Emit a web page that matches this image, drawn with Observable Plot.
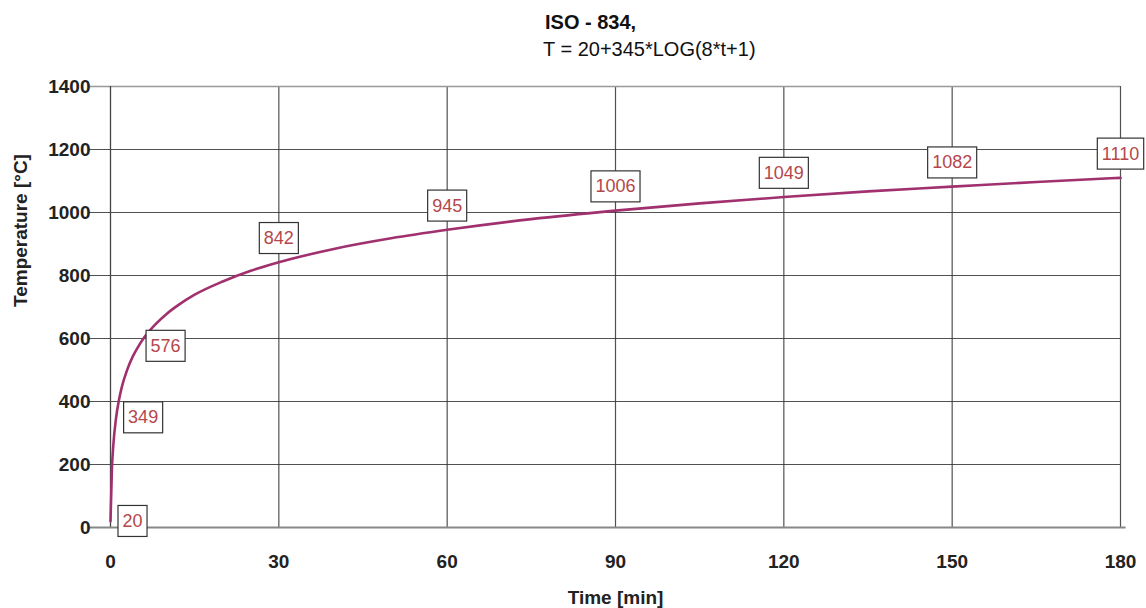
<!DOCTYPE html>
<html><head><meta charset="utf-8">
<script src="https://cdn.jsdelivr.net/npm/d3@7"></script>
<script src="https://cdn.jsdelivr.net/npm/@observablehq/plot@0.6"></script>
<style>
body{margin:0;background:#fff;font-family:Arial,"Liberation Sans",sans-serif;}
#title{height:60px;position:relative;color:#111;}
#title .t1{position:absolute;left:545px;top:10px;font-size:20px;font-weight:bold;line-height:24px;}
#title .t2{position:absolute;left:543px;top:37px;font-size:20px;line-height:24px;}
#chart svg{display:block;}
</style></head><body>
<div id="title"><div class="t1">ISO - 834,</div><div class="t2">T = 20+345*LOG(8*t+1)</div></div>
<div id="chart"></div>
<script>
// Curve values
const times = [0, 0.25, 0.5, 1, 1.5, 2, 3, 4, 5, 6, 8, 10, 12, 15, 20, 25, 30, 40, 50, 60, 75, 90, 105, 120, 135, 150, 165, 180];
const temps = [20, 185, 261, 349, 404, 445, 502, 544, 576, 603, 645, 678, 705, 739, 781, 815, 842, 885, 918, 945, 979, 1006, 1029, 1049, 1067, 1082, 1097, 1110];
// Labelled points
const labelTimes = [0, 1, 5, 30, 60, 90, 120, 150, 180];
const labelTemps = [20, 349, 576, 842, 945, 1006, 1049, 1082, 1110];
// Ticks
const xTicks = [0, 30, 60, 90, 120, 150, 180];
const yTicks = [0, 200, 400, 600, 800, 1000, 1200, 1400];

const curve = times.map((t, i) => ({t, T: temps[i]}));
const labels = labelTimes.map((t, i) => ({t, T: labelTemps[i]}));
const early = labels.filter(d => d.t <= 5);
const late = labels.filter(d => d.t > 5);

const font = "Arial, 'Liberation Sans', sans-serif";
const chart = Plot.plot({
  width: 1146, height: 548,
  marginTop: 26, marginBottom: 81, marginLeft: 110, marginRight: 26,
  style: {fontFamily: font, fontSize: "19px", color: "#222", background: "#fff", overflow: "visible"},
  x: {domain: [0, 180], ticks: xTicks, label: null},
  y: {domain: [0, 1400], ticks: yTicks, label: null},
  marks: [
    Plot.gridX(xTicks.filter(v => v > 0), {stroke: "#333", strokeOpacity: 0.85, strokeWidth: 1.2}),
    Plot.gridY(yTicks.filter(v => v > 0 && v < 1400), {stroke: "#333", strokeOpacity: 0.85, strokeWidth: 1.2, x1: -3.8, x2: 180}),
    Plot.gridY([1400], {stroke: "#999", strokeOpacity: 1, strokeWidth: 1.5, x1: -3.8, x2: 180}),
    Plot.ruleX([0], {stroke: "#444", strokeWidth: 1.3}),
    Plot.ruleY([0], {stroke: "#888", strokeWidth: 2, x1: -3.8, x2: 181}),
    Plot.axisY({ticks: yTicks, tickSize: 0, tickPadding: 20, tickFormat: d => String(d), fontWeight: "bold", fontSize: 19, label: null, fill: "#222"}),
    Plot.axisX({ticks: xTicks, tickSize: 0, tickPadding: 27, tickFormat: d => String(d), fontWeight: "bold", fontSize: 19, label: null, fill: "#222"}),
    Plot.line(curve, {x: "t", y: "T", stroke: "#a0306e", strokeWidth: 2.6, curve: "monotone-x"}),
    Plot.text(early, {x: "t", y: "T", text: d => String(d.T), textAnchor: "start", dx: 12, fontSize: 18, fill: "#b5474b", className: "lbl"}),
    Plot.text(late, {x: "t", y: "T", text: d => String(d.T), dy: -24, fontSize: 18, fill: "#b5474b", className: "lbl"}),
    Plot.text(["Temperature [°C]"], {frameAnchor: "left", dx: -90, rotate: -90, text: d => d, fontWeight: "bold", fontSize: 19, fill: "#222"}),
    Plot.text(["Time [min]"], {frameAnchor: "bottom", dy: 76, text: d => d, fontWeight: "bold", fontSize: 19, fill: "#222"})
  ]
});
document.getElementById("chart").appendChild(chart);

// Draw white boxes with border behind the value labels
chart.querySelectorAll("g.lbl").forEach(g => {
  g.querySelectorAll("text").forEach(t => {
    const b = t.getBBox();
    const r = document.createElementNS("http://www.w3.org/2000/svg", "rect");
    const px = 4.5, py = 5.5;
    r.setAttribute("x", b.x - px);
    r.setAttribute("y", b.y - py);
    r.setAttribute("width", b.width + 2 * px);
    r.setAttribute("height", b.height + 2 * py);
    r.setAttribute("fill", "#fff");
    r.setAttribute("stroke", "#333");
    r.setAttribute("stroke-width", "1.2");
    const tr = t.getAttribute("transform");
    if (tr) r.setAttribute("transform", tr);
    g.insertBefore(r, t);
  });
});
</script>
</body></html>
